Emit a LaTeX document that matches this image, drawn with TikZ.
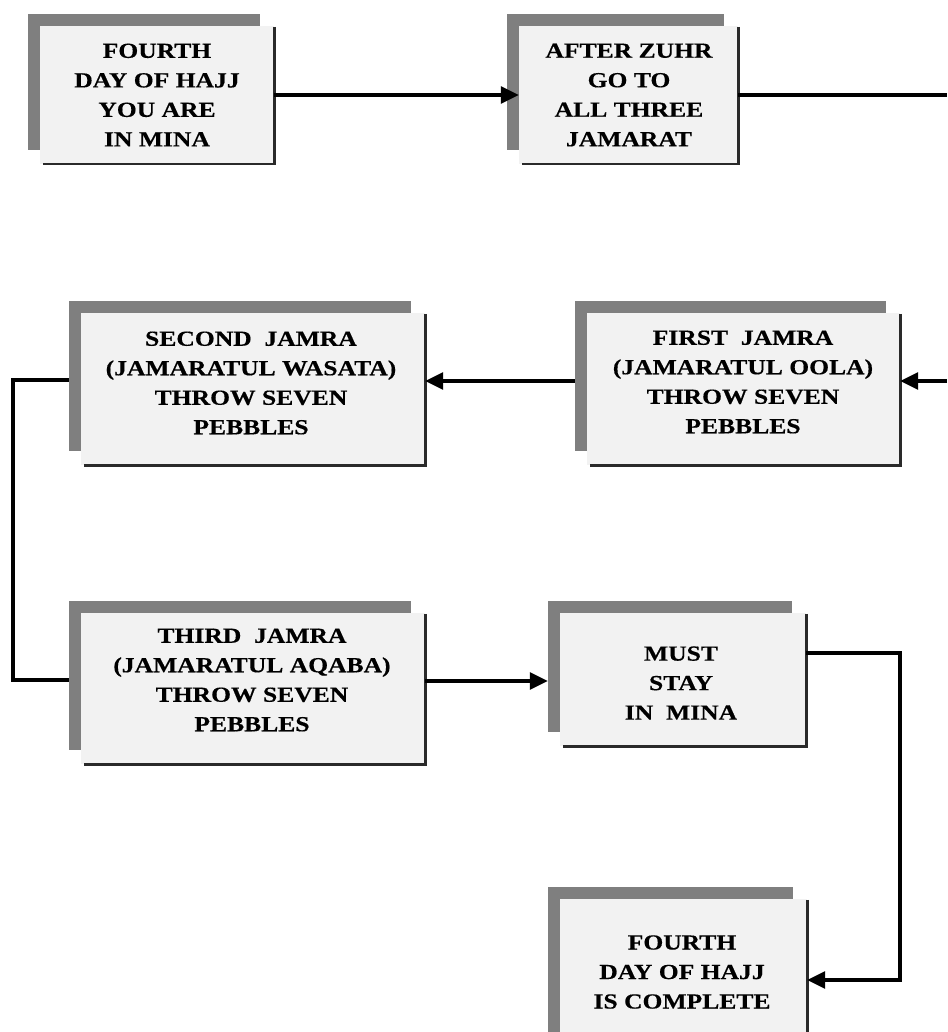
\documentclass[tikz,border=0pt]{standalone}
\usepackage{fontspec}
\newfontfamily\boxfont{Liberation Serif}[FakeStretch=1.19, FakeBold=0.4]
\usetikzlibrary{arrows.meta,calc}
\definecolor{bargray}{HTML}{7F7F7F}
\definecolor{boxfill}{HTML}{F2F2F2}
\definecolor{edgegray}{HTML}{2A2A2A}

\tikzset{
  stepbox/.style={rectangle, fill=boxfill, draw=none, inner sep=0pt},
  steptext/.style={align=center, inner sep=0pt,
    font=\boxfont\bfseries\fontsize{21.5}{29.5}\selectfont},
  flow/.style={line width=3.2pt, black},
  arr/.style={flow, -{Triangle[length=18pt,width=17pt]}},
}

% grey bar along the top and left, dark edge along the right and bottom
\newcommand\stepframe[1]{%
  \fill[bargray] ([shift={(-12pt,12pt)}]#1.north west) rectangle ([xshift=-14pt]#1.north east);
  \fill[bargray] ([shift={(-12pt,12pt)}]#1.north west) rectangle ([yshift=14pt]#1.south west);
  \draw[edgegray, line width=2.6pt] ([yshift=-1pt]#1.north east) -- (#1.south east) -- ([xshift=3pt]#1.south west);
}

\begin{document}
\begin{tikzpicture}[x=1pt, y=-1pt]
\useasboundingbox (0,0) rectangle (947,1032);
\clip (0,0) rectangle (947,1032);
\fill[white] (0,0) rectangle (947,1032);

% boxes
\node[stepbox, minimum width=234pt, minimum height=138pt] (b1) at (157,95) {};
\node[stepbox, minimum width=219pt, minimum height=138pt] (b2) at (628.5,95) {};
\node[stepbox, minimum width=344pt, minimum height=152pt] (b3) at (253,389) {};
\node[stepbox, minimum width=313pt, minimum height=152pt] (b4) at (743.5,389) {};
\node[stepbox, minimum width=344pt, minimum height=151pt] (b5) at (253,688.5) {};
\node[stepbox, minimum width=246pt, minimum height=133pt] (b6) at (683,679.5) {};
\node[stepbox, minimum width=247pt, minimum height=162pt] (b7) at (683.5,980) {};

\stepframe{b1}
\stepframe{b2}
\stepframe{b3}
\stepframe{b4}
\stepframe{b5}
\stepframe{b6}
\stepframe{b7}

% box texts
\node[steptext] (t1) at (157,95) {FOURTH\\DAY OF HAJJ\\YOU ARE\\IN MINA};
\node[steptext] (t2) at (629,95) {AFTER ZUHR\\GO TO\\ALL THREE\\JAMARAT};
\node[steptext] (t3) at (251,383) {SECOND~ JAMRA\\(JAMARATUL WASATA)\\THROW SEVEN\\PEBBLES};
\node[steptext] (t4) at (743,382) {FIRST~ JAMRA\\(JAMARATUL OOLA)\\THROW SEVEN\\PEBBLES};
\node[steptext] (t5) at (252,680) {THIRD~ JAMRA\\(JAMARATUL AQABA)\\THROW SEVEN\\PEBBLES};
\node[steptext] (t6) at (681,683) {MUST\\STAY\\IN~ MINA};
\node[steptext] (t7) at (682,972) {FOURTH\\DAY OF HAJJ\\IS COMPLETE};

% connector ends and bends
\coordinate (e1) at (947,95);
\coordinate (e2) at (947,381);
\coordinate (lft) at (13,530);
\coordinate (rgt) at (900,800);
\coordinate (b4L) at ([xshift=-12pt]b4.west);
\coordinate (b6L) at ([xshift=-12pt]b6.west);
\coordinate (a5) at ([yshift=7.5pt]b5.east);
\coordinate (a6) at ([yshift=26.5pt]b6.east);

% connectors
\draw[arr] (b1.east) -- (b2.west);
\draw[flow] (b2.east) -- (e1);
\draw[arr] (e2) -- (e2 -| b4.east);
\draw[arr] (e2 -| b4L) -- (e2 -| b3.east);
\draw[flow] ([shift={(-12pt,9pt)}]b3.west) -| (lft) |- ([shift={(-12pt,8.5pt)}]b5.west);
\draw[arr] (a5) -- (a5 -| b6L);
\draw[arr] (a6) -| (rgt) |- (b7.east);
\end{tikzpicture}
\end{document}
